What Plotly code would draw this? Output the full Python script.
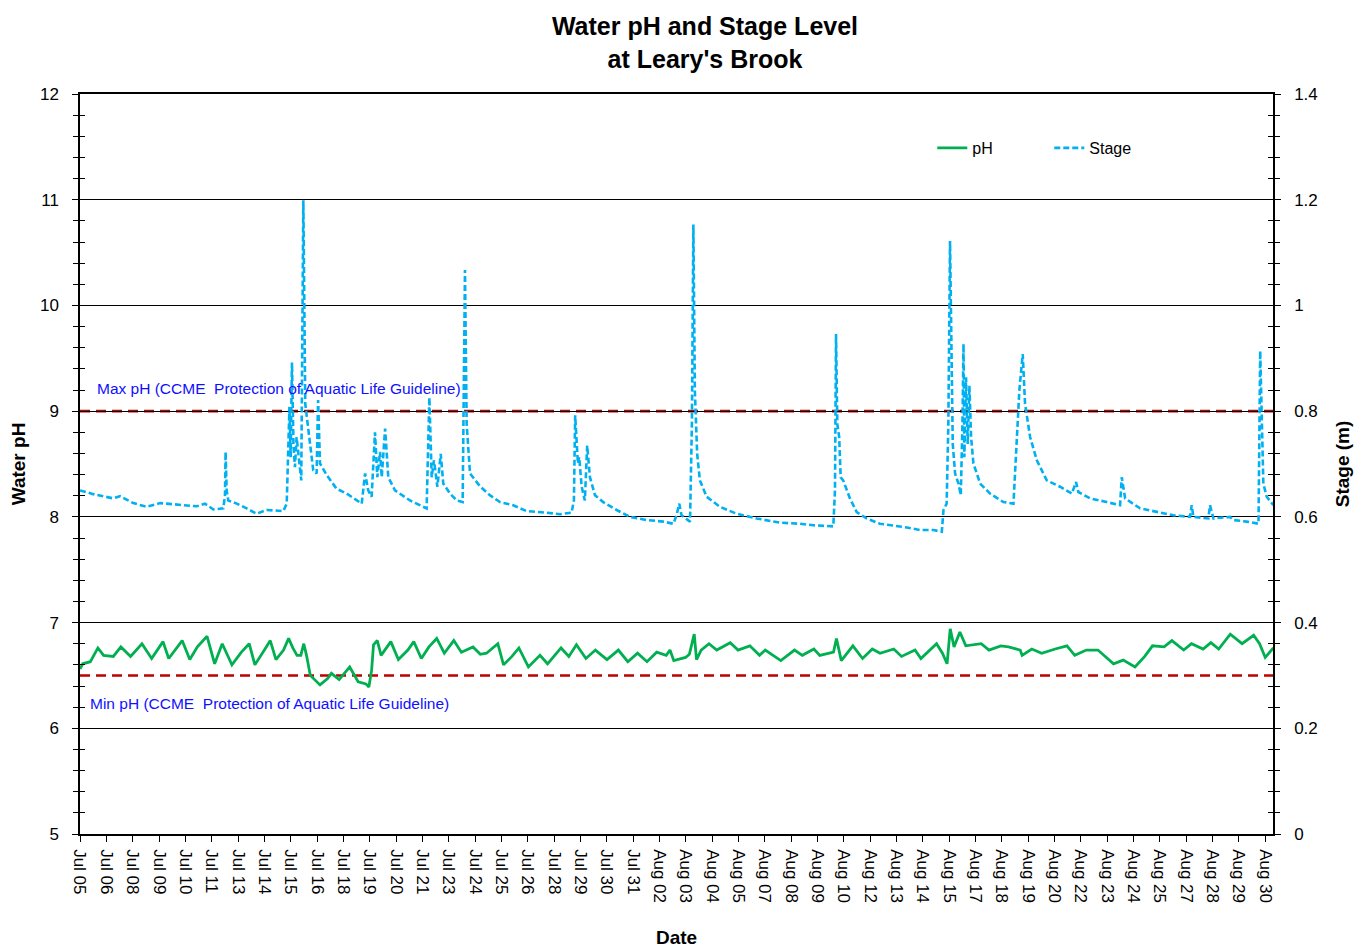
import pandas as pd
import plotly.graph_objects as go

# ---------------- data ----------------
# time in days since 2011-07-05 00:00
base_date = pd.Timestamp("2011-07-05 00:00")

ph_days = [0.50, 0.63, 0.99, 1.35, 1.62, 2.08, 2.44, 2.90, 3.44, 3.90, 4.44, 4.71, 5.35, 5.71,
           6.07, 6.53, 6.89, 7.25, 7.71, 8.16, 8.53, 8.80, 9.34, 9.53, 9.80, 10.16, 10.40, 10.60,
           10.80, 10.98, 11.12, 11.25, 11.43, 11.89, 12.25, 12.43, 12.80, 13.30, 13.70, 14.07,
           14.21, 14.34, 14.43, 14.61, 14.79, 15.25, 15.61, 16.06, 16.34, 16.70, 17.06, 17.43,
           17.79, 18.24, 18.60, 19.15, 19.50, 19.79, 20.33, 20.60, 21.00, 21.33, 21.78, 22.33,
           22.69, 23.33, 23.70, 24.06, 24.51, 24.96, 25.51, 26.05, 26.50, 26.96, 27.41, 27.87,
           28.32, 28.50, 28.68, 29.24, 29.42, 29.65, 29.76, 29.98, 30.35, 30.72, 31.36, 31.73,
           32.29, 32.75, 33.02, 33.76, 34.41, 34.78, 35.33, 35.61, 36.26, 36.40, 36.63, 37.18,
           37.64, 38.10, 38.47, 39.12, 39.49, 40.13, 40.41, 41.15, 41.43, 41.65, 41.80, 41.98,
           42.26, 42.54, 43.27, 43.64, 44.20, 44.57, 45.12, 45.21, 45.67, 46.14, 46.78, 47.34,
           47.71, 48.26, 48.81, 49.55, 50.01, 50.57, 51.03, 51.40, 51.95, 52.32, 52.88, 53.25,
           53.80, 54.17, 54.54, 55.09, 55.65, 56.20, 56.48, 56.75, 57.09, 57.14]
ph_values = [6.56, 6.61, 6.63, 6.76, 6.69, 6.68, 6.77, 6.68, 6.80, 6.66, 6.82, 6.66, 6.83, 6.65,
             6.77, 6.87, 6.61, 6.80, 6.60, 6.72, 6.80, 6.60, 6.77, 6.83, 6.65, 6.74, 6.85, 6.76,
             6.69, 6.69, 6.80, 6.69, 6.50, 6.41, 6.47, 6.52, 6.46, 6.58, 6.44, 6.42,
             6.39, 6.55, 6.79, 6.83, 6.69, 6.82, 6.65, 6.74, 6.82, 6.66, 6.77, 6.85,
             6.71, 6.83, 6.72, 6.77, 6.70, 6.71, 6.80, 6.60, 6.68, 6.76, 6.58, 6.69,
             6.61, 6.76, 6.68, 6.79, 6.66, 6.74, 6.65, 6.74, 6.63, 6.71, 6.63, 6.72,
             6.69, 6.74, 6.64, 6.67, 6.70, 6.89, 6.65, 6.74, 6.80, 6.74, 6.81, 6.74,
             6.78, 6.69, 6.74, 6.64, 6.74, 6.69, 6.75, 6.69, 6.72, 6.85, 6.64, 6.78,
             6.66, 6.75, 6.71, 6.75, 6.68, 6.74, 6.66, 6.80, 6.71, 6.61, 6.94, 6.77,
             6.91, 6.78, 6.80, 6.74, 6.78, 6.77, 6.74, 6.69, 6.75, 6.71, 6.75, 6.78,
             6.69, 6.74, 6.74, 6.61, 6.645, 6.58, 6.68, 6.78, 6.77, 6.83, 6.74, 6.80,
             6.75, 6.81, 6.75, 6.89, 6.80, 6.88, 6.80, 6.67, 6.75, 6.76]

stage_days = [0.50, 1.13, 2.08, 2.40, 3.03, 3.66, 4.30, 5.25, 6.04, 6.43, 6.83, 7.30, 7.38, 7.41,
              7.46, 7.54, 7.94, 8.41, 8.88, 9.36, 10.15, 10.31, 10.44, 10.50, 10.56, 10.63, 10.70,
              10.78, 10.88, 11.00, 11.10, 11.19, 11.34, 11.57, 11.73, 11.80, 11.89, 12.21, 12.68,
              13.16, 13.87, 14.03, 14.18, 14.34, 14.50, 14.61, 14.74, 14.82, 14.98, 15.13, 15.45,
              16.16, 16.95, 17.08, 17.19, 17.30, 17.46, 17.62, 17.74, 18.06, 18.38, 18.66, 18.77,
              18.85, 19.01, 19.48, 19.95, 20.43, 21.06, 21.69, 22.64, 23.28, 23.83, 23.94, 24.00,
              24.07, 24.13, 24.19, 24.31, 24.46, 24.57, 24.70, 24.94, 25.33, 25.97, 26.60, 27.39,
              28.18, 28.66, 28.81, 28.94, 29.05, 29.45, 29.54, 29.61, 29.68, 29.79, 29.92, 30.24,
              30.87, 31.66, 32.61, 33.72, 34.67, 35.30, 36.25, 36.33, 36.38, 36.44, 36.53, 36.60,
              36.72, 36.88, 37.04, 37.36, 37.83, 38.46, 39.10, 39.74, 40.37, 41.00, 41.40, 41.48,
              41.63, 41.71, 41.79, 41.86, 41.92, 42.03, 42.19, 42.30, 42.38, 42.43, 42.47, 42.55,
              42.63, 42.71, 42.79, 42.90, 43.22, 43.69, 44.32, 44.80, 44.92, 45.08, 45.24, 45.35,
              45.59, 45.91, 46.38, 47.01, 47.57, 47.77, 47.88, 48.44, 49.23, 49.86, 49.94, 50.10,
              50.81, 51.60, 52.39, 53.18, 53.26, 53.34, 54.05, 54.13, 54.29, 55.08, 55.24, 55.87,
              56.43, 56.51, 56.59, 56.66, 56.82, 57.14]
stage_values = [0.650, 0.643, 0.635, 0.639, 0.626, 0.619, 0.626, 0.622, 0.620, 0.625, 0.614, 0.616, 0.640, 0.723,
                0.650, 0.631, 0.625, 0.616, 0.606, 0.613, 0.611, 0.625, 0.808, 0.713, 0.892, 0.738, 0.694,
                0.751, 0.713, 0.669, 1.199, 0.814, 0.764, 0.688, 0.682, 0.821, 0.701, 0.679, 0.653,
                0.644, 0.625, 0.682, 0.650, 0.638, 0.760, 0.675, 0.723, 0.675, 0.767, 0.675, 0.650,
                0.631, 0.616, 0.826, 0.675, 0.707, 0.657, 0.719, 0.663, 0.644, 0.631, 0.628, 1.067,
                0.776, 0.682, 0.658, 0.641, 0.628, 0.622, 0.611, 0.608, 0.605, 0.608, 0.631, 0.792,
                0.738, 0.701, 0.713, 0.657, 0.631, 0.735, 0.675, 0.641, 0.628, 0.613, 0.600, 0.594,
                0.591, 0.587, 0.603, 0.625, 0.603, 0.591, 0.776, 1.153, 0.839, 0.719, 0.669, 0.638,
                0.619, 0.606, 0.597, 0.589, 0.587, 0.584, 0.582, 0.650, 0.946, 0.776, 0.751, 0.675,
                0.669, 0.650, 0.635, 0.609, 0.597, 0.587, 0.584, 0.580, 0.575, 0.575, 0.572, 0.613,
                0.625, 0.776, 1.122, 0.902, 0.738, 0.682, 0.663, 0.641, 0.776, 0.927, 0.713, 0.864,
                0.738, 0.848, 0.751, 0.701, 0.663, 0.644, 0.628, 0.625, 0.713, 0.839, 0.908, 0.814,
                0.751, 0.707, 0.669, 0.657, 0.644, 0.666, 0.647, 0.635, 0.628, 0.622, 0.675, 0.635,
                0.616, 0.609, 0.603, 0.600, 0.622, 0.600, 0.597, 0.622, 0.597, 0.600, 0.594, 0.591,
                0.587, 0.914, 0.776, 0.663, 0.638, 0.622]

ph_max_guideline = 9.0
ph_min_guideline = 6.5
max_label = "Max pH (CCME  Protection of Aquatic Life Guideline)"
min_label = "Min pH (CCME  Protection of Aquatic Life Guideline)"

x_start = "2011-07-05 12:00"
x_end = "2011-08-31 02:50"
tick_step_days = 1.25

# ---------------- figure ----------------
ph_time = [base_date + pd.Timedelta(days=d) for d in ph_days]
stage_time = [base_date + pd.Timedelta(days=d) for d in stage_days]

FONT = "Liberation Sans, Arial, sans-serif"
fig = go.Figure()

fig.add_trace(go.Scatter(x=ph_time, y=ph_values, name="pH", mode="lines",
                         line=dict(color="#00B050", width=2.8), yaxis="y"))
fig.add_trace(go.Scatter(x=stage_time, y=stage_values, name="Stage", mode="lines",
                         line=dict(color="#00B0F0", width=2.6, dash="6px,3px"), yaxis="y2"))
# helper traces so overlay axes (inner tick halves) are drawn
fig.add_trace(go.Scatter(x=[ph_time[0]], y=[None], yaxis="y3", showlegend=False, hoverinfo="skip"))
fig.add_trace(go.Scatter(x=[ph_time[0]], y=[None], yaxis="y4", showlegend=False, hoverinfo="skip"))

for val in (ph_max_guideline, ph_min_guideline):
    fig.add_shape(type="line", xref="paper", x0=0, x1=1, yref="y", y0=val, y1=val,
                  line=dict(color="#C00000", width=2.6, dash="10px,6px"), layer="between")

fig.add_annotation(text=max_label, xref="paper", x=0.0125, xanchor="left",
                   yref="y", y=9.21, yanchor="middle", showarrow=False,
                   font=dict(family=FONT, size=15.5, color="#1010FF"))
fig.add_annotation(text=min_label, xref="paper", x=0.0065, xanchor="left",
                   yref="y", y=6.23, yanchor="middle", showarrow=False,
                   font=dict(family=FONT, size=15.5, color="#1010FF"))

tickfont = dict(family=FONT, size=17, color="black")
fig.update_layout(
    width=1360, height=940,
    margin=dict(l=72, r=95, t=86, b=114, autoexpand=False),
    paper_bgcolor="white", plot_bgcolor="white",
    font=dict(family=FONT, color="black"),
    title=dict(text="<b>Water pH and Stage Level<br>at Leary's Brook</b>",
               x=0.5125, xanchor="center", y=0.971, yanchor="middle",
               font=dict(family=FONT, size=25, color="black")),
    showlegend=True,
    legend=dict(orientation="h", x=0.7144, xanchor="left", y=0.927, yanchor="middle",
                font=dict(family=FONT, size=16, color="black"), bgcolor="rgba(0,0,0,0)",
                entrywidth=72, entrywidthmode="pixels"),
    xaxis=dict(type="date", range=[x_start, x_end], tick0=x_start, automargin=False,
               dtick=tick_step_days * 86400000, tickformat="%b %d", tickangle=90,
               ticks="outside", ticklen=6, tickcolor="black", tickwidth=1,
               showline=True, linecolor="black", linewidth=1.5, mirror=True,
               showgrid=False, zeroline=False, tickfont=tickfont, ticklabelstandoff=4,
               title=dict(text="<b>Date</b>", font=dict(family=FONT, size=19), standoff=30)),
    yaxis=dict(range=[5, 12], dtick=1, tick0=5, ticks="outside", ticklen=6, tickcolor="black",
               showline=True, linecolor="black", linewidth=1.5, automargin=False,
               showgrid=True, gridcolor="black", gridwidth=1, zeroline=False,
               minor=dict(dtick=0.2, ticks="outside", ticklen=5, tickcolor="black", showgrid=False),
               tickfont=tickfont, ticklabelstandoff=10,
               title=dict(text="<b>Water pH</b>", font=dict(family=FONT, size=19), standoff=16)),
    yaxis2=dict(range=[0, 1.4], dtick=0.2, tick0=0, overlaying="y", side="right",
                ticks="outside", ticklen=6, tickcolor="black", automargin=False,
                showline=True, linecolor="black", linewidth=1.5, showgrid=False, zeroline=False,
                minor=dict(dtick=0.04, ticks="outside", ticklen=5, tickcolor="black", showgrid=False),
                tickfont=tickfont, ticklabelstandoff=10,
                title=dict(text="<b>Stage (m)</b>", font=dict(family=FONT, size=19), standoff=19)),
    yaxis3=dict(range=[5, 12], dtick=1, tick0=5, overlaying="y", side="left", automargin=False,
                ticks="inside", ticklen=6, tickcolor="black", showticklabels=False,
                showline=False, showgrid=False, zeroline=False,
                minor=dict(dtick=0.2, ticks="inside", ticklen=5, tickcolor="black", showgrid=False)),
    yaxis4=dict(range=[0, 1.4], dtick=0.2, tick0=0, overlaying="y", side="right", automargin=False,
                ticks="inside", ticklen=6, tickcolor="black", showticklabels=False,
                showline=False, showgrid=False, zeroline=False,
                minor=dict(dtick=0.04, ticks="inside", ticklen=5, tickcolor="black", showgrid=False)),
)

fig.write_html("out.html")
